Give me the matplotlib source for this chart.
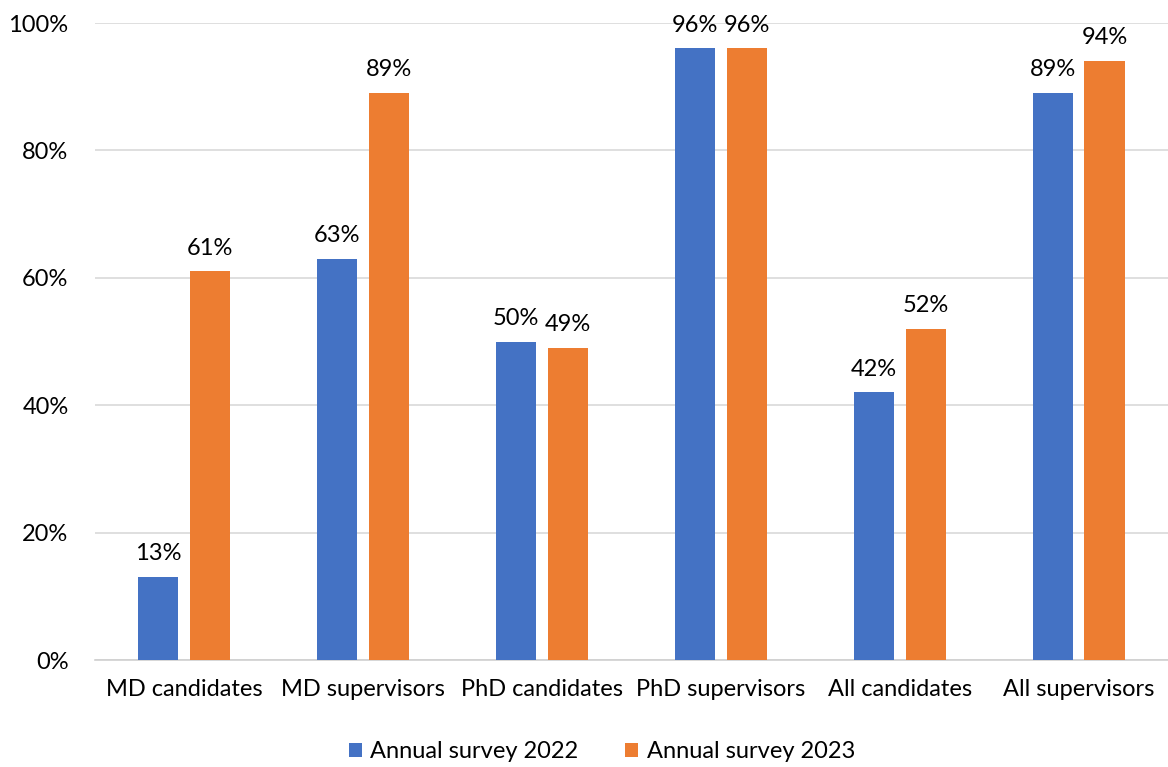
import numpy as np
import matplotlib.pyplot as plt

categories = ['MD candidates', 'MD supervisors', 'PhD candidates',
              'PhD supervisors', 'All candidates', 'All supervisors']
survey_2022 = [13, 63, 50, 96, 42, 89]
survey_2023 = [61, 89, 49, 96, 52, 94]
yticks = [0, 20, 40, 60, 80, 100]

plt.rcParams['font.family'] = ['Lato', 'DejaVu Sans']

fig = plt.figure(figsize=(11.68, 7.67), dpi=100)
ax = fig.add_axes([0.0813, 0.1395, 0.9187, 0.8305])

x = np.arange(len(categories))
w = 0.224
off = 0.145
b1 = ax.bar(x - off, survey_2022, w, color='#4472C4', label='Annual survey 2022', zorder=3)
b2 = ax.bar(x + off, survey_2023, w, color='#ED7D31', label='Annual survey 2023', zorder=3)

for bars, vals in [(b1, survey_2022), (b2, survey_2023)]:
    for r, v in zip(bars, vals):
        ax.text(r.get_x() + r.get_width() / 2, v + 2.0, f'{v}%', ha='center', va='bottom',
                fontsize=17, color='#000000')

ax.set_xlim(-0.5, len(categories) - 0.5)
ax.set_ylim(0, 100)
ax.set_yticks(yticks)
ax.set_yticklabels([f'{t}%' for t in yticks], fontsize=17)
ax.set_xticks(x)
ax.set_xticklabels(categories, fontsize=17)
ax.tick_params(axis='both', length=0)
ax.tick_params(axis='y', pad=19)
ax.tick_params(axis='x', pad=14)
ax.grid(axis='y', color='#d9d9d9', linewidth=1.2, zorder=0)
for s in ['top', 'right', 'left']:
    ax.spines[s].set_visible(False)
ax.spines['bottom'].set_color('#d0d0d0')
ax.spines['bottom'].set_linewidth(1.2)

ax.legend(loc='upper center', bbox_to_anchor=(0.4725, -0.094), ncol=2, frameon=False,
          fontsize=17, handlelength=0.55, handleheight=0.55, columnspacing=2.0, handletextpad=0.35)

plt.savefig('out.png', dpi=100)
